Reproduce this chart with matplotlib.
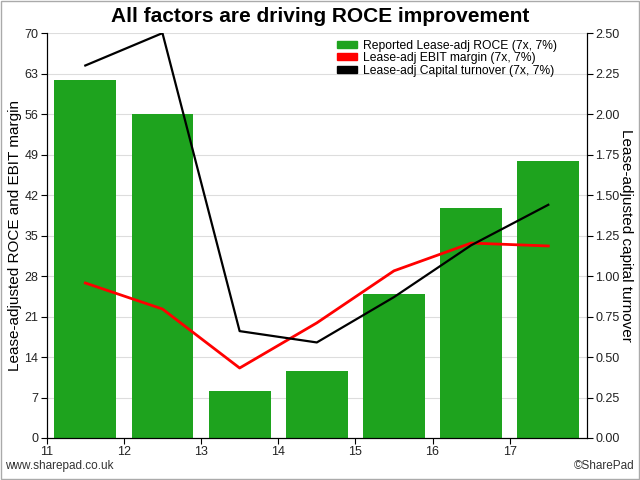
import numpy as np
import matplotlib.pyplot as plt
from matplotlib.patches import Patch, Rectangle

plt.rcParams['font.family'] = ['Liberation Sans', 'DejaVu Sans']

# Données
years = [11, 12, 13, 14, 15, 16, 17]
roce = [61.9, 56.0, 8.1, 11.6, 24.9, 39.8, 47.9]
ebit_margin = [26.8, 22.3, 12.1, 19.9, 28.9, 33.7, 33.2]
capital_turnover = [2.30, 2.50, 0.66, 0.59, 0.87, 1.19, 1.44]

x = np.array(years) + 0.5

fig = plt.figure(figsize=(6.4, 4.8), dpi=100)
ax = fig.add_axes([0.073, 0.0875, 0.844, 0.8435])
ax2 = ax.twinx()

ax.set_axisbelow(True)
ax.yaxis.grid(True, color='#dddddd', linewidth=0.8)
ax.bar(x, roce, width=0.8, color='#1ea31e', zorder=2)
ax.plot(x, ebit_margin, color='#ff0000', linewidth=2, zorder=3)
ax2.plot(x, capital_turnover, color='black', linewidth=1.6, zorder=3)

ax.set_xlim(11, 18)
ax.set_xticks(years)
ax.set_ylim(0, 70)
ax.set_yticks(np.arange(0, 71, 7))
ax2.set_ylim(0, 2.5)
ax2.set_yticks(np.arange(0, 2.51, 0.25))
ax2.set_yticklabels([f"{v:.2f}" for v in np.arange(0, 2.51, 0.25)])

for a in (ax, ax2):
    a.spines['top'].set_visible(False)
    a.tick_params(labelsize=9, length=4, color='black', pad=2, labelcolor='#222222')
ax.set_ylabel("Lease-adjusted ROCE and EBIT margin", fontsize=11, labelpad=2)
ax2.set_ylabel("Lease-adjusted capital turnover", fontsize=11, rotation=270, labelpad=10)

fig.suptitle("All factors are driving ROCE improvement", fontsize=15, fontweight='bold', y=0.985)

handles = [Patch(color='#1ea31e'), Patch(color='#ff0000'), Patch(color='black')]
labels = ["Reported Lease-adj ROCE (7x, 7%)", "Lease-adj EBIT margin (7x, 7%)",
          "Lease-adj Capital turnover (7x, 7%)"]
ax2.legend(handles, labels, loc='upper right', bbox_to_anchor=(0.96, 1.005), frameon=False,
           fontsize=8.7, handlelength=1.6, handleheight=0.5, labelspacing=0.05,
           handletextpad=0.5, borderpad=0.2)

fig.text(0.008, 0.023, "www.sharepad.co.uk", fontsize=8.5, color='#333333')
fig.text(0.992, 0.023, "©SharePad", fontsize=8.5, color='#333333', ha='right')
fig.patches.append(Rectangle((0.002, 0.002), 0.996, 0.996, transform=fig.transFigure,
                             fill=False, edgecolor='#aaaaaa', linewidth=1))

plt.savefig("out.png", dpi=100)
